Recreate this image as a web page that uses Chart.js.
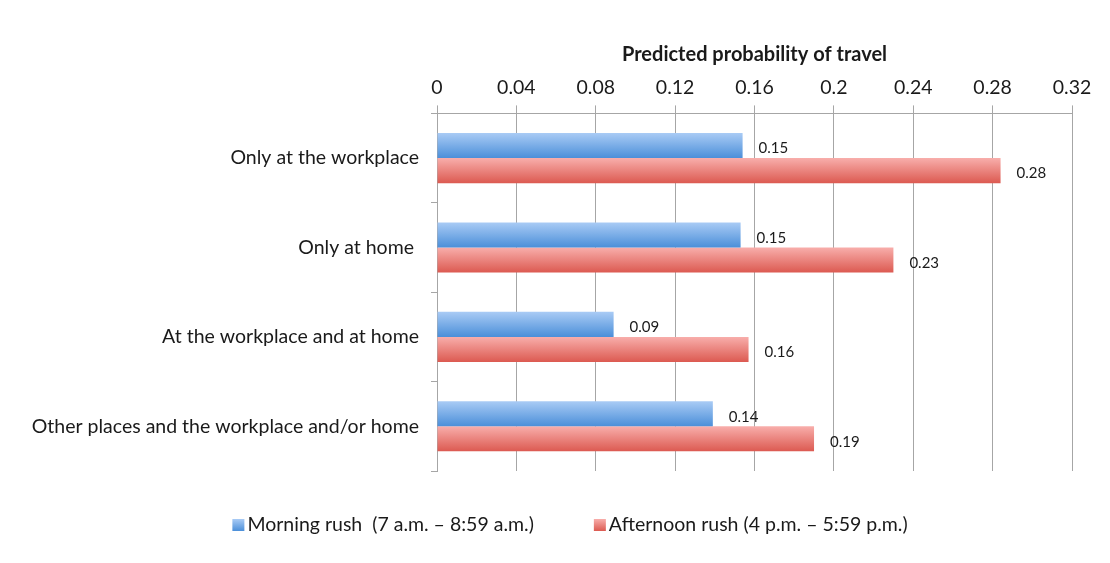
<!DOCTYPE html>
<html>
<head>
<meta charset="utf-8">
<script src="https://cdn.jsdelivr.net/npm/chart.js@4/dist/chart.umd.min.js"></script>
<style>
  html, body { margin: 0; padding: 0; background: #fff; }
  #wrap { width: 1110px; height: 563px; }
</style>
</head>
<body>
<div id="wrap"><canvas id="travelChart"></canvas></div>
<script>
const categories = [
    'Only at the workplace',
    'Only at home ',
    'At the workplace and at home',
    'Other places and the workplace and/or home'
];
const morningRush = [0.154, 0.153, 0.089, 0.139];
const afternoonRush = [0.284, 0.23, 0.157, 0.19];
const xTicks = [0, 0.04, 0.08, 0.12, 0.16, 0.2, 0.24, 0.28, 0.32];

const seriesColors = {
    morning: { top: '#a9cbf5', bottom: '#4b8fd9', solid: '#5f9de0' },
    afternoon: { top: '#f8aeab', bottom: '#dc5a51', solid: '#e8716a' }
};

const fontFamily = 'Lato, "Open Sans", sans-serif';

// vertical gradient for each bar, built from the y scale
function barGradient(context, colors, upper) {
    const chart = context.chart;
    const yScale = chart.scales.y;
    if (!yScale || !chart.chartArea) return colors.solid;
    const center = yScale.getPixelForValue(context.dataIndex);
    const step = yScale.height / categories.length;
    const half = step * 0.56 / 2;
    const top = upper ? center - half : center;
    const bottom = upper ? center : center + half;
    const g = chart.ctx.createLinearGradient(0, top, 0, bottom);
    g.addColorStop(0, colors.top);
    g.addColorStop(1, colors.bottom);
    return g;
}

const valueLabels = {
    id: 'valueLabels',
    afterDatasetsDraw(chart) {
        const ctx = chart.ctx;
        ctx.save();
        ctx.font = '15px ' + fontFamily;
        ctx.fillStyle = '#1a1a1a';
        ctx.textAlign = 'left';
        ctx.textBaseline = 'middle';
        chart.data.datasets.forEach((ds, i) => {
            const meta = chart.getDatasetMeta(i);
            meta.data.forEach((bar, j) => {
                ctx.fillText(ds.data[j].toFixed(2), bar.x + 16, bar.y + 3);
            });
        });
        ctx.restore();
    }
};

// legend drawn by hand so the spacing matches the original
const bottomLegend = {
    id: 'bottomLegend',
    afterDraw(chart) {
        const ctx = chart.ctx;
        const swatches = [seriesColors.morning, seriesColors.afternoon];
        ctx.save();
        ctx.font = '19.5px ' + fontFamily;
        ctx.textBaseline = 'middle';
        const widths = chart.data.datasets.map(ds => ctx.measureText(ds.label).width);
        const box = 12, gap = 3, between = 60;
        const total = widths.reduce((a, w) => a + box + gap + w, 0) + between * (widths.length - 1);
        let x = chart.width / 2 + 15 - total / 2;
        const y = chart.chartArea.bottom + 54;
        chart.data.datasets.forEach((ds, i) => {
            const g = ctx.createLinearGradient(0, y - box / 2, 0, y + box / 2);
            g.addColorStop(0, swatches[i].top);
            g.addColorStop(1, swatches[i].bottom);
            ctx.fillStyle = g;
            ctx.fillRect(x, y - box / 2, box, box);
            x += box + gap;
            ctx.fillStyle = '#1a1a1a';
            ctx.fillText(ds.label, x, y);
            x += widths[i] + between;
        });
        ctx.restore();
    }
};

const chartConfig = {
    type: 'bar',
    data: {
        labels: categories,
        datasets: [{
            label: 'Morning rush  (7 a.m. \u2013 8:59 a.m.)',
            data: morningRush,
            backgroundColor: ctx => barGradient(ctx, seriesColors.morning, true),
            borderWidth: 0,
            categoryPercentage: 0.56,
            barPercentage: 1
        }, {
            label: 'Afternoon rush (4 p.m. \u2013 5:59 p.m.)',
            data: afternoonRush,
            backgroundColor: ctx => barGradient(ctx, seriesColors.afternoon, false),
            borderWidth: 0,
            categoryPercentage: 0.56,
            barPercentage: 1
        }]
    },
    options: {
        indexAxis: 'y',
        responsive: true,
        maintainAspectRatio: false,
        animation: false,
        layout: { padding: { left: 10, right: 38, top: 43, bottom: 92 } },
        scales: {
            x: {
                position: 'top',
                min: 0,
                max: 0.32,
                afterBuildTicks: axis => { axis.ticks = xTicks.map(v => ({ value: v })); },
                ticks: {
                    callback: v => String(parseFloat(v.toFixed(2))),
                    color: '#1a1a1a',
                    font: { size: 19.5, family: fontFamily },
                    padding: 6
                },
                grid: { color: '#a6a6a6', lineWidth: 1, tickLength: 8 },
                border: { color: '#a6a6a6' },
                title: {
                    display: true,
                    text: 'Predicted probability of travel',
                    color: '#1a1a1a',
                    font: { size: 20, weight: 'bold', family: fontFamily },
                    padding: { top: 0, bottom: 3 }
                }
            },
            y: {
                afterFit: scale => { scale.width = 427; },
                ticks: {
                    color: '#1a1a1a',
                    font: { size: 19.5, family: fontFamily },
                    padding: 12
                },
                grid: { drawOnChartArea: false, color: '#a6a6a6', tickLength: 6, offset: true },
                border: { color: '#a6a6a6' }
            }
        },
        plugins: {
            legend: { display: false },
            tooltip: { enabled: false }
        }
    },
    plugins: [valueLabels, bottomLegend]
};

new Chart(document.getElementById('travelChart').getContext('2d'), chartConfig);
</script>
</body>
</html>
